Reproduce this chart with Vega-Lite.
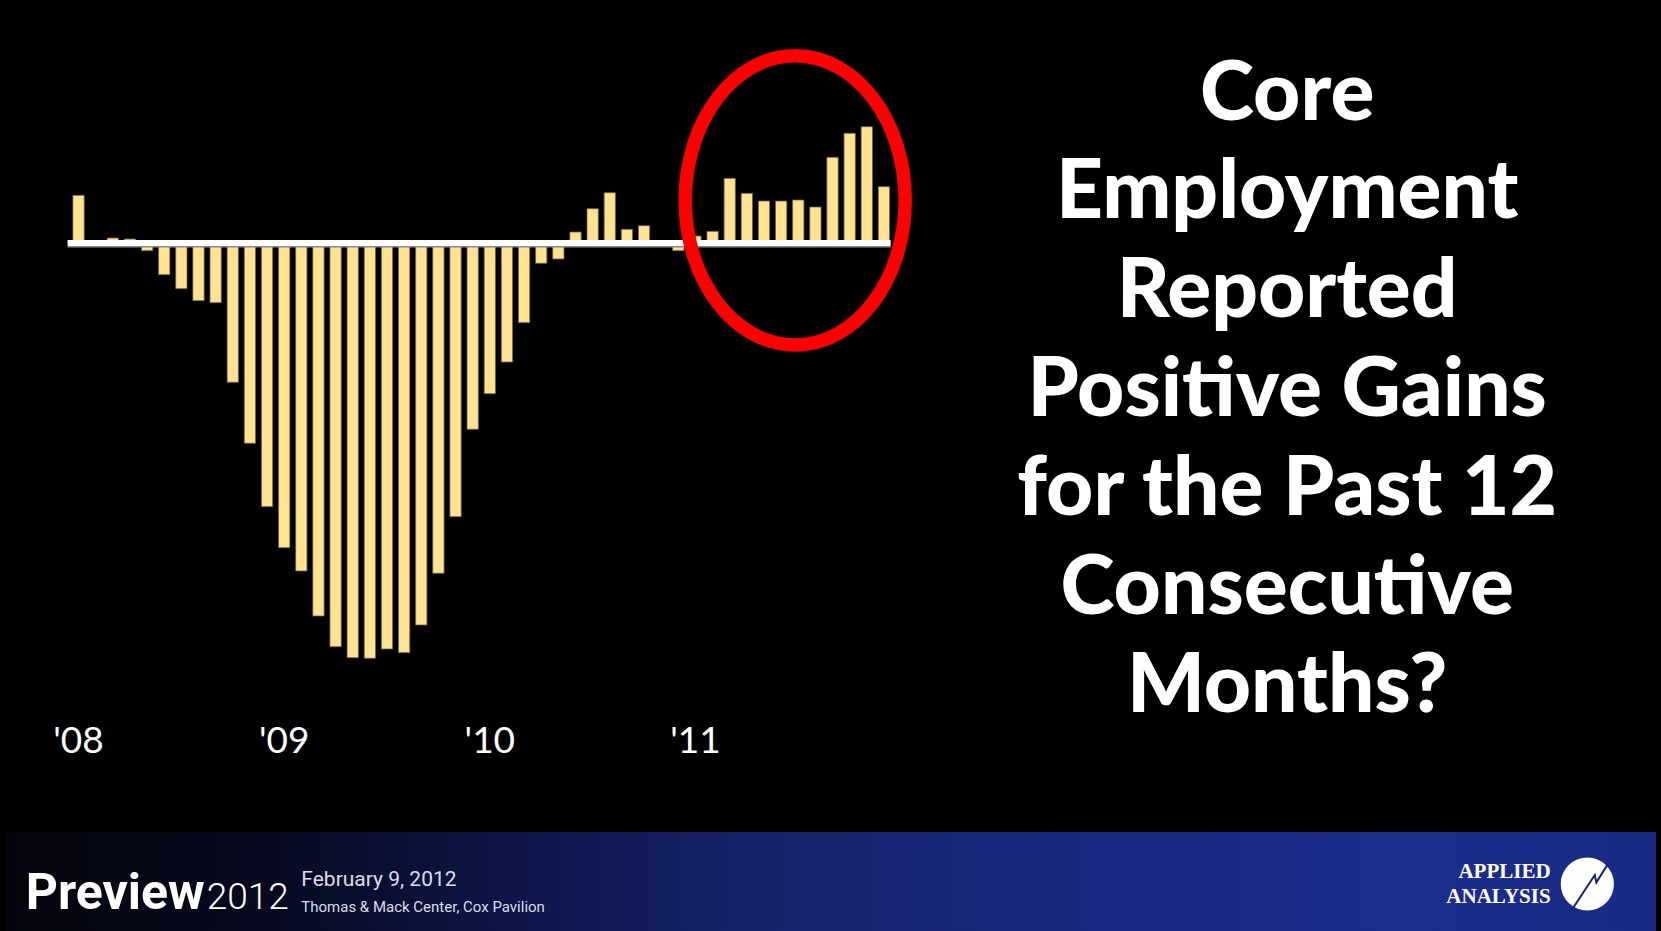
{
  "$schema": "https://vega.github.io/schema/vega-lite/v6.json",
  "width": 1661,
  "height": 931,
  "autosize": "none",
  "padding": 0,
  "background": "#000000",
  "config": {"view": {"stroke": null}},
  "encoding": {
    "x": {"type": "quantitative", "scale": {"domain": [-4.2923, 92.0534], "nice": false, "zero": false}, "axis": null},
    "y": {"type": "quantitative", "scale": {"domain": [-68.8, 24.3], "nice": false, "zero": false}, "axis": null}
  },
  "layer": [
    {
      "data": {"values": [{"part": "footer"}]},
      "mark": {"type": "rect", "fill": {"gradient": "linear", "x1": 0, "x2": 1, "y1": 0, "y2": 0, "stops": [
        {"offset": 0, "color": "#04050c"},
        {"offset": 0.16, "color": "#070a20"},
        {"offset": 0.3, "color": "#0d1546"},
        {"offset": 0.45, "color": "#16226a"},
        {"offset": 0.65, "color": "#1a2980"},
        {"offset": 0.85, "color": "#1c2d8b"},
        {"offset": 1, "color": "#1a2b84"}]}},
      "encoding": {
        "x": {"datum": -4.2923}, "x2": {"datum": 92.0534},
        "y": {"datum": -68.8}, "y2": {"datum": -58.9}
      }
    },
    {
      "data": {"values": [
        {"month": "2008-01", "i": 0, "change": 4.77},
        {"month": "2008-02", "i": 1, "change": 0},
        {"month": "2008-03", "i": 2, "change": 0.5},
        {"month": "2008-04", "i": 3, "change": 0.4},
        {"month": "2008-05", "i": 4, "change": -0.77},
        {"month": "2008-06", "i": 5, "change": -3.17},
        {"month": "2008-07", "i": 6, "change": -4.57},
        {"month": "2008-08", "i": 7, "change": -5.77},
        {"month": "2008-09", "i": 8, "change": -5.97},
        {"month": "2008-10", "i": 9, "change": -13.93},
        {"month": "2008-11", "i": 10, "change": -20.03},
        {"month": "2008-12", "i": 11, "change": -26.37},
        {"month": "2009-01", "i": 12, "change": -30.47},
        {"month": "2009-02", "i": 13, "change": -32.8},
        {"month": "2009-03", "i": 14, "change": -37.3},
        {"month": "2009-04", "i": 15, "change": -40.37},
        {"month": "2009-05", "i": 16, "change": -41.47},
        {"month": "2009-06", "i": 17, "change": -41.53},
        {"month": "2009-07", "i": 18, "change": -40.6},
        {"month": "2009-08", "i": 19, "change": -40.97},
        {"month": "2009-09", "i": 20, "change": -38.2},
        {"month": "2009-10", "i": 21, "change": -33.03},
        {"month": "2009-11", "i": 22, "change": -27.37},
        {"month": "2009-12", "i": 23, "change": -18.63},
        {"month": "2010-01", "i": 24, "change": -15.07},
        {"month": "2010-02", "i": 25, "change": -11.9},
        {"month": "2010-03", "i": 26, "change": -7.97},
        {"month": "2010-04", "i": 27, "change": -2.03},
        {"month": "2010-05", "i": 28, "change": -1.6},
        {"month": "2010-06", "i": 29, "change": 1.1},
        {"month": "2010-07", "i": 30, "change": 3.43},
        {"month": "2010-08", "i": 31, "change": 5.03},
        {"month": "2010-09", "i": 32, "change": 1.37},
        {"month": "2010-10", "i": 33, "change": 1.73},
        {"month": "2010-11", "i": 34, "change": 0},
        {"month": "2010-12", "i": 35, "change": -0.77},
        {"month": "2011-01", "i": 36, "change": 0.7},
        {"month": "2011-02", "i": 37, "change": 1.17},
        {"month": "2011-03", "i": 38, "change": 6.47},
        {"month": "2011-04", "i": 39, "change": 4.97},
        {"month": "2011-05", "i": 40, "change": 4.2},
        {"month": "2011-06", "i": 41, "change": 4.2},
        {"month": "2011-07", "i": 42, "change": 4.3},
        {"month": "2011-08", "i": 43, "change": 3.6},
        {"month": "2011-09", "i": 44, "change": 8.57},
        {"month": "2011-10", "i": 45, "change": 10.97},
        {"month": "2011-11", "i": 46, "change": 11.63},
        {"month": "2011-12", "i": 47, "change": 5.63}
      ]},
      "mark": {"type": "bar", "width": 11.3, "color": "#FFE292", "stroke": "#6e6140", "strokeWidth": 0.8},
      "encoding": {
        "x": {"field": "i", "type": "quantitative"},
        "y": {"field": "change", "type": "quantitative"},
        "y2": {"datum": 0}
      }
    },
    {
      "data": {"values": [{"part": "baseline"}]},
      "mark": {"type": "rule", "color": "#8a8a8a", "strokeWidth": 1.5},
      "encoding": {"x": {"datum": -0.64}, "x2": {"datum": 47.39}, "y": {"datum": -0.38}}
    },
    {
      "data": {"values": [{"part": "baseline"}]},
      "mark": {"type": "rule", "color": "#ffffff", "strokeWidth": 6},
      "encoding": {"x": {"datum": -0.64}, "x2": {"datum": 47.39}, "y": {"datum": 0}}
    },
    {
      "data": {"values": [{"part": "highlight"}]},
      "mark": {"type": "point", "filled": false, "opacity": 1, "stroke": "#FF0000", "strokeWidth": 13.5,
        "shape": "M0.7607,0 C0.7607,0.5523 0.4201,1 0,1 C-0.4201,1 -0.7607,0.5523 -0.7607,0 C-0.7607,-0.5523 -0.4201,-1 0,-1 C0.4201,-1 0.7607,-0.5523 0.7607,0 Z",
        "size": 83637},
      "encoding": {"x": {"datum": 41.82}, "y": {"datum": 4.265}}
    },
    {
      "data": {"values": [
        {"label": "'08", "i": 0},
        {"label": "'09", "i": 12},
        {"label": "'10", "i": 24},
        {"label": "'11", "i": 36}
      ]},
      "mark": {"type": "text", "font": "Lato", "fontSize": 37, "color": "#ffffff", "align": "center", "baseline": "alphabetic"},
      "encoding": {
        "x": {"field": "i", "type": "quantitative"},
        "y": {"datum": -51.0},
        "text": {"field": "label"}
      }
    },
    {
      "data": {"values": [{"title": "Core\nEmployment\nReported\nPositive Gains\nfor the Past 12\nConsecutive\nMonths?"}]},
      "mark": {"type": "text", "font": "Lato", "fontWeight": 900, "fontSize": 82, "lineHeight": 98.8, "lineBreak": "\n", "color": "#ffffff", "align": "center", "baseline": "alphabetic"},
      "encoding": {"x": {"datum": 70.53}, "y": {"datum": 12.33}, "text": {"field": "title"}}
    },
    {
      "data": {"values": [{"t": "Preview"}]},
      "mark": {"type": "text", "font": "Roboto", "fontWeight": "bold", "fontSize": 50, "color": "#ffffff", "align": "left", "baseline": "alphabetic"},
      "encoding": {"x": {"datum": -3.08}, "y": {"datum": -66.6}, "text": {"field": "t"}}
    },
    {
      "data": {"values": [{"t": "2012"}]},
      "mark": {"type": "text", "font": "Roboto", "fontWeight": 300, "fontSize": 37, "color": "#ffffff", "align": "left", "baseline": "alphabetic"},
      "encoding": {"x": {"datum": 7.48}, "y": {"datum": -66.6}, "text": {"field": "t"}}
    },
    {
      "data": {"values": [{"t": "February 9, 2012"}]},
      "mark": {"type": "text", "font": "Roboto", "fontSize": 21, "color": "#dcdce8", "align": "left", "baseline": "alphabetic"},
      "encoding": {"x": {"datum": 13.0}, "y": {"datum": -64.26}, "text": {"field": "t"}}
    },
    {
      "data": {"values": [{"t": "Thomas & Mack Center, Cox Pavilion"}]},
      "mark": {"type": "text", "font": "Roboto", "fontSize": 15, "color": "#dcdce8", "align": "left", "baseline": "alphabetic"},
      "encoding": {"x": {"datum": 13.0}, "y": {"datum": -66.9}, "text": {"field": "t"}}
    },
    {
      "data": {"values": [{"t": "APPLIED"}]},
      "mark": {"type": "text", "font": "Liberation Serif", "fontWeight": "bold", "fontSize": 21, "color": "#ffffff", "align": "right", "baseline": "alphabetic"},
      "encoding": {"x": {"datum": 85.905}, "y": {"datum": -63.5}, "text": {"field": "t"}}
    },
    {
      "data": {"values": [{"t": "ANALYSIS"}]},
      "mark": {"type": "text", "font": "Liberation Serif", "fontWeight": "bold", "fontSize": 21, "color": "#ffffff", "align": "right", "baseline": "alphabetic"},
      "encoding": {"x": {"datum": 85.905}, "y": {"datum": -66.0}, "text": {"field": "t"}}
    },
    {
      "data": {"values": [{"part": "logo"}]},
      "mark": {"type": "point", "filled": true, "opacity": 1, "color": "#ffffff", "shape": "circle", "size": 2827},
      "encoding": {"x": {"datum": 88.045}, "y": {"datum": -64.1}}
    },
    {
      "data": {"values": [{"part": "logo"}]},
      "mark": {"type": "point", "filled": false, "opacity": 1, "stroke": "#1a2570", "strokeWidth": 2,
        "shape": "M-0.56,0.93 L0.25,-0.3 L0.3,-0.05 L0.72,-0.72", "size": 3600},
      "encoding": {"x": {"datum": 88.045}, "y": {"datum": -64.1}}
    }
  ]
}
